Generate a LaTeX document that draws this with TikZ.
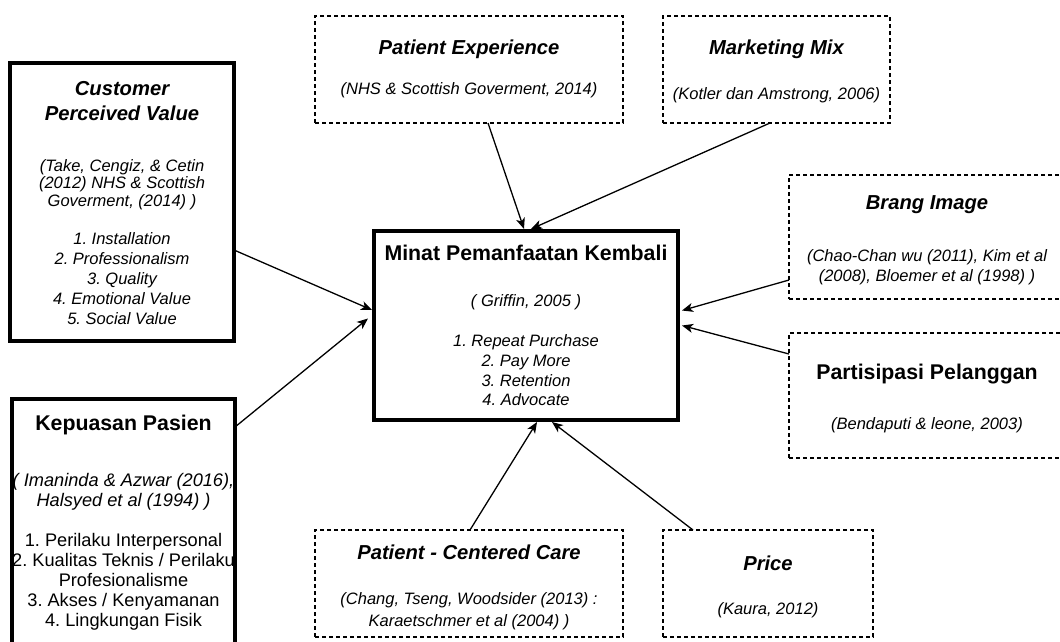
\documentclass[tikz,border=0pt]{standalone}
\usepackage{fontspec}
\setmainfont{Liberation Sans}
\usetikzlibrary{arrows.meta}
\tikzset{
  dbox/.style={draw, inner sep=0pt, outer sep=0pt, line width=1.3pt, dash pattern=on 4pt off 3pt},
  bbox/.style={draw, inner sep=0pt, outer sep=0pt, line width=4pt},
  ttli/.style={anchor=base, inner sep=0pt, font=\fontsize{20.2}{25}\selectfont\bfseries\itshape},
  ttlb/.style={anchor=base, inner sep=0pt, font=\fontsize{21.3}{25}\selectfont\bfseries},
  txt/.style={anchor=base, inner sep=0pt, font=\fontsize{16.5}{20}\selectfont\itshape},
  ktxti/.style={anchor=base, inner sep=0pt, font=\fontsize{18.2}{22}\selectfont\itshape},
  ktxt/.style={anchor=base, inner sep=0pt, font=\fontsize{18.2}{22}\selectfont},
  conn/.style={line width=1.3pt, -{Stealth[length=11pt,width=9pt,inset=3pt]}}
}
\begin{document}
\frenchspacing
\begin{tikzpicture}[x=1pt,y=-1pt]
\useasboundingbox (0,0) rectangle (1060,641);
\clip (0,0) rectangle (1060,641);
% boxes
\node[bbox, minimum width=224pt, minimum height=278pt] (cpv) at (122,202) {};
\node[bbox, minimum width=223pt, minimum height=266pt] (kep) at (123.5,532) {};
\node[dbox, minimum width=308pt, minimum height=107pt] (pe) at (469,69.5) {};
\node[dbox, minimum width=227pt, minimum height=107pt] (mm) at (776.5,69.5) {};
\node[bbox, minimum width=304pt, minimum height=189pt] (main) at (526,325.5) {};
\node[dbox, minimum width=276pt, minimum height=124pt] (brang) at (927,237) {};
\node[dbox, minimum width=276pt, minimum height=125pt] (part) at (927,395.5) {};
\node[dbox, minimum width=308pt, minimum height=107pt] (pcc) at (469,583.5) {};
\node[dbox, minimum width=210pt, minimum height=107pt] (price) at (768,583.5) {};
% CPV text
\node[ttli] (cpvt1) at (122,95) {Customer};
\node[ttli] (cpvt2) at (122,120) {Perceived Value};
\node[txt] (cpvc1) at (122,171) {(Take, Cengiz, \& Cetin};
\node[txt] (cpvc2) at (122,188.5) {(2012) NHS \& Scottish};
\node[txt] (cpvc3) at (122,206) {Goverment, (2014) )};
\node[txt] (cpvl1) at (122,244) {1. Installation};
\node[txt] (cpvl2) at (122,264) {2. Professionalism};
\node[txt] (cpvl3) at (122,284) {3. Quality};
\node[txt] (cpvl4) at (122,304) {4. Emotional Value};
\node[txt] (cpvl5) at (122,324) {5. Social Value};
% Kepuasan text
\node[ttlb] (kept) at (123.5,430) {Kepuasan Pasien};
\node[ktxti] (kepc1) at (123.5,486.5) {( Imaninda \& Azwar (2016),};
\node[ktxti] (kepc2) at (123.5,506.5) {Halsyed et al (1994) )};
\node[ktxt] (kepl1) at (123.5,546.5) {1. Perilaku Interpersonal};
\node[ktxt] (kepl2) at (123.5,566.5) {2. Kualitas Teknis / Perilaku};
\node[ktxt] (kepl3) at (123.5,586.5) {Profesionalisme};
\node[ktxt] (kepl4) at (123.5,606.5) {3. Akses / Kenyamanan};
\node[ktxt] (kepl5) at (123.5,626.5) {4. Lingkungan Fisik};
% Main text
\node[ttlb] (maint) at (526,260) {Minat Pemanfaatan Kembali};
\node[txt] (mainc) at (526,306) {( Griffin, 2005 )};
\node[txt] (mainl1) at (526,346) {1. Repeat Purchase};
\node[txt] (mainl2) at (526,366) {2. Pay More};
\node[txt] (mainl3) at (526,386) {3. Retention};
\node[txt] (mainl4) at (526,405) {4. Advocate};
% Patient Experience
\node[ttli] (pet) at (469,54) {Patient Experience};
\node[txt] (pec) at (469,94) {(NHS \& Scottish Goverment, 2014)};
% Marketing Mix
\node[ttli] (mmt) at (776.5,54) {Marketing Mix};
\node[txt] (mmc) at (776.5,99) {(Kotler dan Amstrong, 2006)};
% Brang Image
\node[ttli] (brt) at (927,209) {Brang Image};
\node[txt] (brc1) at (927,261) {(Chao-Chan wu (2011), Kim et al};
\node[txt] (brc2) at (927,281) {(2008), Bloemer et al (1998) )};
% Partisipasi
\node[ttlb] (pat) at (927,379) {Partisipasi Pelanggan};
\node[txt] (pac) at (927,429) {(Bendaputi \& leone, 2003)};
% Patient-Centered Care
\node[ttli] (pcct) at (469,559) {Patient - Centered Care};
\node[txt] (pccc1) at (469,604) {(Chang, Tseng, Woodsider (2013) :};
\node[txt] (pccc2) at (469,626) {Karaetschmer et al (2004) )};
% Price
\node[ttli] (prt) at (768,570) {Price};
\node[txt] (prc) at (768,614) {(Kaura, 2012)};
% connectors
\draw[conn] ([xshift=19pt]pe.south) -- ([xshift=-2pt,yshift=2pt]main.north);
\draw[conn] ([xshift=-6.5pt]mm.south) -- ([xshift=5pt,yshift=2pt]main.north);
\draw[conn] ([yshift=-48pt]cpv.east) -- ([xshift=-2pt,yshift=15.5pt]main.west);
\draw[conn] ([yshift=105pt]kep.east) -- ([xshift=-6pt,yshift=7pt]main.west);
\draw[conn] ([yshift=-43pt]brang.west) -- ([xshift=4pt,yshift=15pt]main.east);
\draw[conn] ([yshift=41.5pt]part.west) -- ([xshift=4pt]main.east);
\draw[conn] ([xshift=1pt]pcc.north) -- ([xshift=11pt,yshift=-2pt]main.south);
\draw[conn] ([xshift=-75pt]price.north) -- ([xshift=26pt,yshift=-2pt]main.south);
\end{tikzpicture}
\end{document}
